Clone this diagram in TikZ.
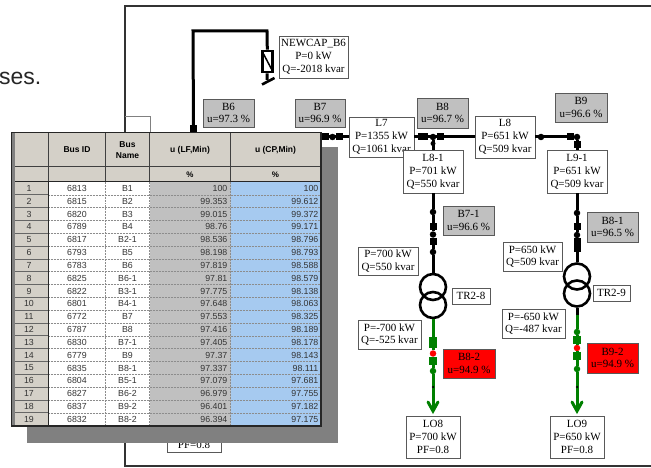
\documentclass[tikz,border=0pt]{standalone}
\usepackage{fontspec}
\usepackage{xcolor}
\setmainfont{Liberation Serif}
\newfontfamily\tablefont{Liberation Sans}
\usetikzlibrary{arrows.meta,positioning}
\definecolor{headgray}{HTML}{D4D0C8}
\definecolor{lfgray}{HTML}{C0C0C0}
\definecolor{cpblue}{HTML}{A6CAF0}
\definecolor{busgray}{HTML}{C0C0C0}
\definecolor{loadgreen}{HTML}{008000}
\begin{document}
\begin{tikzpicture}[
    x=1pt, y=-1pt,
    box/.style={draw=black!65, fill=white, line width=0.9pt, inner sep=0pt, align=center, font=\fontsize{11}{12.8}\selectfont},
    busbox/.style={box, fill=busgray},
    alarmbox/.style={box, fill=red},
    wire/.style={line width=3pt, black},
    gwire/.style={line width=3pt, loadgreen},
    sq/.style={fill=black, inner sep=0pt, minimum width=7pt, minimum height=7pt},
    gsq/.style={sq, fill=loadgreen},
    dotb/.style={circle, fill=black, inner sep=0pt, minimum size=6.5pt},
    gdot/.style={dotb, fill=loadgreen},
    rdot/.style={dotb, fill=red},
    tick/.style={circle, fill=black, inner sep=0pt, minimum size=2.5pt},
    coil/.style={circle, draw=black, line width=2.6pt, inner sep=0pt, minimum size=26pt},
    head/.style={fill=headgray, inner sep=0pt, align=center, font=\tablefont\bfseries\fontsize{8.5}{11}\selectfont},
    cell/.style={inner sep=0pt, font=\tablefont\fontsize{8.8}{10}\selectfont, text=black!80},
    grid/.style={black!45, line width=0.5pt, densely dotted}
]
\path[use as bounding box, fill=white] (0,0) rectangle (651,468);
\node[anchor=base west, inner sep=0pt, font=\tablefont\fontsize{23}{26}\selectfont, text=black!85] (intro) at (-1,85) {ses.};
\draw[black!80, line width=1.4pt] (651,6) -- (125,6) -- (125,466) -- (651,466);
\draw[black!50, line width=0.8pt] (125,116.5) -- (150.5,116.5) -- (150.5,135);

% capacitor branch
\coordinate (cornerA) at (193,31);
\coordinate (cornerB) at (267,31);
\coordinate (capfoot) at (267,80);
\node[sq] (b6sq) at (193.5,128.5) {};
\node[draw=black, fill=white, line width=2.6pt, inner sep=0pt, minimum width=10.5pt, minimum height=21pt] (cap) at (267.5,61.5) {};
\draw[wire] (b6sq) -- (cornerA) -- (cornerB) -- (cap);
\draw[wire] (cap) -- (capfoot);
\draw[line width=2.6pt] (262,84.5) -- (274.5,78);
\draw[line width=1.5pt] (263,53) -- (272,70);
\node[box, minimum width=69pt, minimum height=42pt] (newcap) at (313.5,57) {NEWCAP\_B6\\P=0 kW\\Q=-2018 kvar};
\node[busbox, minimum width=51pt, minimum height=28pt] (b6) at (228.5,113) {B6\\u=97.3 \%};
\node[busbox, minimum width=50pt, minimum height=28pt] (b7) at (320,113) {B7\\u=96.9 \%};

% main line
\node[sq] (b7sqa) at (325,137) {};
\node[dotb] (b7dot) at (332.5,137) {};
\node[sq] (b7sqb) at (339,137) {};
\node[sq, minimum width=10pt] (b8sqa) at (423,137) {};
\node[dotb] (b8dot) at (433,137) {};
\node[sq] (b8sqb) at (440,137) {};
\node[dotb] (l8dot) at (541,137) {};
\node[sq] (b9sqa) at (570,137) {};
\node[dotb] (b9dot) at (577,137) {};
\node[sq] (b9sqb) at (577,144.5) {};
\node[dotb, minimum size=5pt] (b8pin) at (433,143.5) {};
\coordinate (tablerim) at (321,137);

\node[box, minimum width=65pt, minimum height=40pt] (l7) at (381.5,137) {L7\\P=1355 kW\\Q=1061 kvar};
\node[box, minimum width=60pt, minimum height=42pt] (l8) at (505,137) {L8\\P=651 kW\\Q=509 kvar};
\draw[wire] (tablerim) -- (l7);
\draw[wire] (l7) -- (l8);
\draw[wire] (l8) -- (b9dot);
\node[busbox, minimum width=51pt, minimum height=30pt] (b8) at (442.5,113) {B8\\u=96.7 \%};
\node[busbox, minimum width=52pt, minimum height=29pt] (b9) at (581,107.5) {B9\\u=96.6 \%};
\node[box, minimum width=60pt, minimum height=43pt] (l81) at (433,171.5) {L8-1\\P=701 kW\\Q=550 kvar};
\node[box, minimum width=60pt, minimum height=43pt] (l91) at (577,171.5) {L9-1\\P=651 kW\\Q=509 kvar};
\draw[wire] (b8dot) -- (l81);
\draw[wire] (b9dot) -- (l91);

% feeder to LO8
\node[coil] (tr8a) at (433,287) {};
\node[coil] (tr8b) at (433,305) {};
\node[dotb] (f8a) at (433,212) {};
\node[sq] (f8b) at (433,226.5) {};
\node[dotb] (f8c) at (433,234.5) {};
\node[sq] (f8d) at (433,241.5) {};
\node[dotb] (f8e) at (433,252) {};
\draw[wire] (l81) -- (f8a) -- (f8b) -- (f8c) -- (f8d) -- (f8e) -- (tr8a.north);
\node[box, minimum width=54pt, minimum height=42pt] (lo8) at (433,437) {LO8\\P=700 kW\\PF=0.8};
\node[gsq, minimum width=8pt, minimum height=11pt] (g8a) at (433,342.5) {};
\node[rdot] (g8b) at (433,353.5) {};
\node[gsq, minimum width=8pt, minimum height=8pt] (g8c) at (433,361) {};
\node[gdot] (g8d) at (433,371) {};
\node[tick] (g8e) at (433,387) {};
\coordinate (tip8) at (433,411);
\draw[gwire] (tr8b.south) -- (g8a) -- (g8b) -- (g8c) -- (g8d) -- (tip8);
\draw[gwire, line cap=round] (428,402) -- (tip8) -- (438,402);
\node[tick] at (g8e) {};

% feeder to LO9
\node[coil] (tr9a) at (577,276.5) {};
\node[coil] (tr9b) at (577,293.5) {};
\node[dotb] (f9a) at (577,213) {};
\node[sq] (f9b) at (577,226.5) {};
\node[dotb] (f9c) at (577,235) {};
\node[sq, minimum height=14pt] (f9d) at (577,245) {};
\draw[wire] (l91) -- (f9a) -- (f9b) -- (f9c) -- (f9d) -- (tr9a.north);
\coordinate (tr9out) at (577,315);
\draw[wire] (tr9b.south) -- (tr9out);
\node[box, minimum width=54pt, minimum height=42pt] (lo9) at (577,437) {LO9\\P=650 kW\\PF=0.8};
\node[gdot] (g9a) at (577,332) {};
\node[gsq, minimum width=8pt, minimum height=8pt] (g9b) at (577,340) {};
\node[rdot] (g9c) at (577,348) {};
\node[gsq, minimum width=8pt, minimum height=8pt] (g9d) at (577,355.5) {};
\node[gdot] (g9e) at (577,369) {};
\node[tick] (g9f) at (577,387) {};
\coordinate (tip9) at (577,411);
\draw[gwire] (tr9out) -- (g9a) -- (g9b) -- (g9c) -- (g9d) -- (g9e) -- (tip9);
\draw[gwire, line cap=round] (572,402) -- (tip9) -- (582,402);
\node[tick] at (g9f) {};

\node[busbox, minimum width=51pt, minimum height=29pt] (b71) at (468.5,220.5) {B7-1\\u=96.6 \%};
\node[busbox, minimum width=51pt, minimum height=30pt] (b81) at (612.5,227) {B8-1\\u=96.5 \%};
\node[box, minimum width=60pt, minimum height=28pt] (pq8a) at (388,261) {P=700 kW\\Q=550 kvar};
\node[box, minimum width=38pt, minimum height=16pt] (tr28) at (471,296) {TR2-8};
\node[box, minimum width=63pt, minimum height=29pt] (pq8b) at (389.5,334.5) {P=-700 kW\\Q=-525 kvar};
\node[alarmbox, minimum width=52pt, minimum height=29pt] (b82) at (469,363.5) {B8-2\\u=94.9 \%};
\node[box, minimum width=59pt, minimum height=29pt] (pq9a) at (532.5,256.5) {P=650 kW\\Q=509 kvar};
\node[box, minimum width=37pt, minimum height=16pt] (tr29) at (611.5,293) {TR2-9};
\node[box, minimum width=63pt, minimum height=29pt] (pq9b) at (533.5,323.5) {P=-650 kW\\Q=-487 kvar};
\node[alarmbox, minimum width=51pt, minimum height=30pt] (b92) at (612.5,358) {B9-2\\u=94.9 \%};
\node[box, minimum width=54pt, minimum height=42pt] (lohidden) at (194,431) {\strut\\\strut\\PF=0.8};

% result table
\fill[black!50] (27,147) rectangle (338,443);
\fill[headgray] (11,132) rectangle (321,426);
\fill[white] (49,182) rectangle (150,426);
\fill[lfgray] (150,182) rectangle (231,426);
\fill[cpblue] (231,182) rectangle (320,426);
\node[head, minimum width=56pt, minimum height=32pt] (hid) at (77,150) {Bus ID};
\node[head, minimum width=43pt, minimum height=32pt] (hname) at (127.5,150) {Bus\\Name};
\node[head, minimum width=80pt, minimum height=32pt] (hlf) at (190,150) {u (LF,Min)};
\node[head, minimum width=88pt, minimum height=32pt] (hcp) at (275.5,150) {u (CP,Min)};
\node[head, font=\tablefont\bfseries\fontsize{8}{10}\selectfont] (ulf) at (190,174.5) {\%};
\node[head, font=\tablefont\bfseries\fontsize{8}{10}\selectfont] (ucp) at (275.5,174.5) {\%};
\foreach \n/\bid/\bname/\lf/\cp [count=\r from 0] in {
    1/6813/B1/100/100, 2/6815/B2/99.353/99.612, 3/6820/B3/99.015/99.372,
    4/6789/B4/98.76/99.171, 5/6817/B2-1/98.536/98.796, 6/6793/B5/98.198/98.793,
    7/6783/B6/97.819/98.588, 8/6825/B6-1/97.81/98.579, 9/6822/B3-1/97.775/98.138,
    10/6801/B4-1/97.648/98.063, 11/6772/B7/97.553/98.325, 12/6787/B8/97.416/98.189,
    13/6830/B7-1/97.405/98.178, 14/6779/B9/97.37/98.143, 15/6835/B8-1/97.337/98.111,
    16/6804/B5-1/97.079/97.681, 17/6827/B6-2/96.979/97.755, 18/6837/B9-2/96.401/97.182,
    19/6832/B8-2/96.394/97.175} {
  \pgfmathsetmacro{\ry}{188.5+12.82*\r}
  \pgfmathsetmacro{\rl}{182+12.82*(\r+1)}
  \node[cell] (n\r) at (29,\ry) {\n};
  \node[cell] (i\r) at (77,\ry) {\bid};
  \node[cell] (m\r) at (127.5,\ry) {\bname};
  \node[cell, anchor=east] (l\r) at (227.5,\ry) {\lf};
  \node[cell, anchor=east] (c\r) at (318.5,\ry) {\cp};
  \draw[grid] (49,\rl) -- (320,\rl);
  \draw[black!60, line width=0.8pt] (15,\rl) -- (48.5,\rl);
}
\foreach \gx in {105.5,149.5,230.5}
  \draw[grid] (\gx,182) -- (\gx,426);
\foreach \gx in {48.7,105.5,149.5,230.5}
  \draw[black!75, line width=0.8pt] (\gx,133) -- (\gx,182);
\draw[black!75, line width=0.8pt] (14,166) -- (320,166);
\draw[black!85, line width=1pt] (14,182) -- (320,182);
\draw[black!85, line width=1pt] (48.7,182) -- (48.7,426);
\fill[black!50] (12,133) rectangle (14.5,426);
\draw[black!85, line width=1.2pt] (11.5,132.5) rectangle (321,426);
\end{tikzpicture}
\end{document}
